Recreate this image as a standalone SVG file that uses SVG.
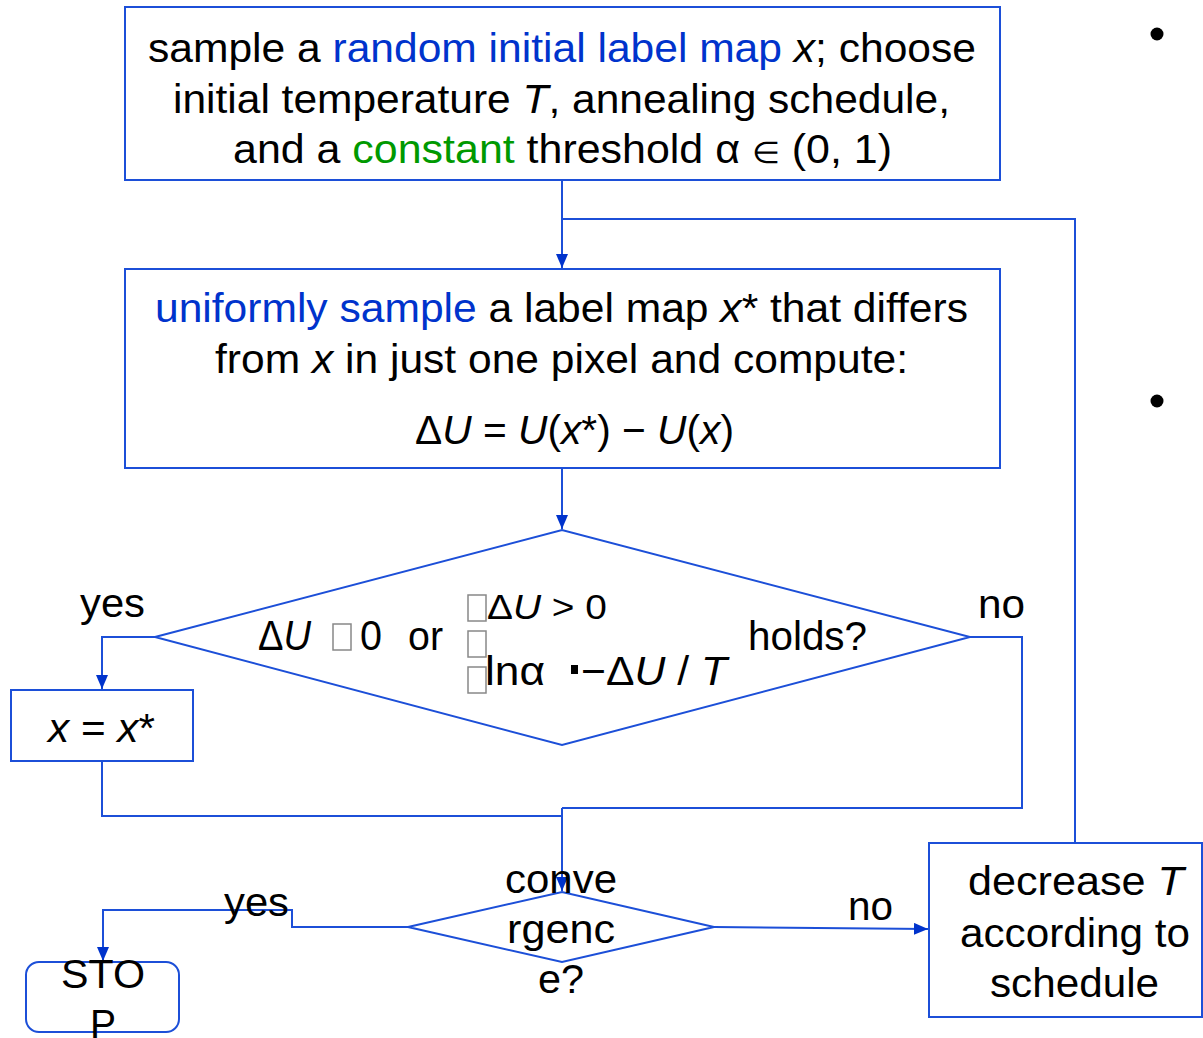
<svg xmlns="http://www.w3.org/2000/svg" width="1203" height="1038" viewBox="0 0 1203 1038">
<style>
.box{fill:#fff;stroke:#1c4fd8;stroke-width:2}
.ln{fill:none;stroke:#1c4fd8;stroke-width:2}
.t{font-family:"Liberation Sans",Arial,sans-serif;font-size:40px;fill:#000}
.f{font-family:"Liberation Sans",Arial,sans-serif;fill:#000}
.i{font-style:italic}
.b{fill:#0033cc}
.g{fill:#009900}
.mb{fill:none;stroke:#888;stroke-width:1.5}
</style>
<defs>
<marker id="ah" viewBox="0 0 14 12" refX="14" refY="6" markerWidth="14" markerHeight="12" markerUnits="userSpaceOnUse" orient="auto">
<path d="M0,0 L14,6 L0,12 Z" fill="#0033cc"/>
</marker>
</defs>
<rect width="1203" height="1038" fill="#fff"/>
<g id="connectors">
<path class="ln" d="M562,180 V268" marker-end="url(#ah)"/>
<path class="ln" d="M1075,843 V219 H562"/>
<path class="ln" d="M562,468 V529" marker-end="url(#ah)"/>
<path class="ln" d="M155,637 H102 V689" marker-end="url(#ah)"/>
<path class="ln" d="M970,637 H1022 V808 H562"/>
<path class="ln" d="M102,761 V816 H562"/>
<path class="ln" d="M562,808 V891" marker-end="url(#ah)"/>
<path class="ln" d="M408,927 H292 V910 H103 V961" marker-end="url(#ah)"/>
<path class="ln" d="M714,927 L928,929" marker-end="url(#ah)"/>
<text class="t" x="80" y="617" textLength="65" lengthAdjust="spacingAndGlyphs">yes</text>
<text class="t" x="978" y="618" textLength="47" lengthAdjust="spacingAndGlyphs">no</text>
<text class="t" x="224" y="916" textLength="65" lengthAdjust="spacingAndGlyphs">yes</text>
<text class="t" x="848" y="920" textLength="45" lengthAdjust="spacingAndGlyphs">no</text>
</g>
<g id="init">
<rect class="box" x="125" y="7" width="875" height="173"/>
<text class="t" x="148" y="62" textLength="828" lengthAdjust="spacingAndGlyphs">sample a <tspan class="b">random initial label map</tspan> <tspan class="i">x</tspan>; choose</text>
<text class="t" x="173" y="113" textLength="777" lengthAdjust="spacingAndGlyphs">initial temperature <tspan class="i">T</tspan>, annealing schedule,</text>
<text class="t" x="233" y="163" textLength="659" lengthAdjust="spacingAndGlyphs">and a <tspan class="g">constant</tspan> threshold α <tspan font-size="30">∈</tspan> (0, 1)</text>
</g>
<g id="sample">
<rect class="box" x="125" y="269" width="875" height="199"/>
<text class="t" x="155" y="322" textLength="813" lengthAdjust="spacingAndGlyphs"><tspan class="b">uniformly sample</tspan> a label map <tspan class="i">x</tspan>* that differs</text>
<text class="t" x="215" y="373" textLength="693" lengthAdjust="spacingAndGlyphs">from <tspan class="i">x</tspan> in just one pixel and compute:</text>
<text class="f" x="415" y="444" font-size="41" textLength="319" lengthAdjust="spacingAndGlyphs">Δ<tspan class="i">U</tspan> = <tspan class="i">U</tspan>(<tspan class="i">x</tspan>*) − <tspan class="i">U</tspan>(<tspan class="i">x</tspan>)</text>
</g>
<g id="accept">
<polygon class="box" points="155,637 562,530 970,637 562,745"/>
<text class="f" x="258" y="650" font-size="43" textLength="53" lengthAdjust="spacingAndGlyphs">Δ<tspan class="i">U</tspan></text>
<rect class="mb" x="333" y="624" width="18" height="26"/>
<text class="f" x="360" y="650" font-size="43" textLength="22" lengthAdjust="spacingAndGlyphs">0</text>
<text class="f" x="408" y="650" font-size="40" textLength="35" lengthAdjust="spacingAndGlyphs">or</text>
<rect class="mb" x="468" y="595" width="18" height="26"/>
<rect class="mb" x="468" y="631" width="18" height="26"/>
<rect class="mb" x="468" y="667" width="18" height="26"/>
<text class="f" x="487" y="619" font-size="35" textLength="120" lengthAdjust="spacingAndGlyphs">Δ<tspan class="i">U</tspan> &gt; 0</text>
<text class="f" x="485" y="685" font-size="41" textLength="60" lengthAdjust="spacingAndGlyphs">lnα</text>
<rect x="571" y="665" width="7" height="9" fill="#000"/>
<text class="f" x="581" y="685" font-size="41" textLength="146" lengthAdjust="spacingAndGlyphs">−Δ<tspan class="i">U</tspan> / <tspan class="i">T</tspan></text>
<text class="f" x="748" y="650" font-size="40" textLength="119" lengthAdjust="spacingAndGlyphs">holds?</text>
</g>
<g id="assign">
<rect class="box" x="11" y="690" width="182" height="71"/>
<text class="t" x="48" y="742" textLength="107" lengthAdjust="spacingAndGlyphs"><tspan class="i">x</tspan> = <tspan class="i">x</tspan>*</text>
</g>
<g id="converge">
<polygon class="box" points="408,927 562,892 714,927 562,962"/>
<text class="t" x="505" y="893" textLength="112" lengthAdjust="spacingAndGlyphs">conve</text>
<text class="t" x="507" y="943" textLength="108" lengthAdjust="spacingAndGlyphs">rgenc</text>
<text class="t" x="538" y="993" textLength="46" lengthAdjust="spacingAndGlyphs">e?</text>
</g>
<g id="decrease">
<rect class="box" x="929" y="843" width="273" height="174"/>
<text class="t" x="968" y="895" textLength="216" lengthAdjust="spacingAndGlyphs">decrease <tspan class="i">T</tspan></text>
<text class="t" x="960" y="947" textLength="230" lengthAdjust="spacingAndGlyphs">according to</text>
<text class="t" x="990" y="997" textLength="169" lengthAdjust="spacingAndGlyphs">schedule</text>
</g>
<g id="stop">
<rect class="box" x="26" y="962" width="153" height="70" rx="13" ry="13"/>
<text class="t" x="61" y="988" textLength="84" lengthAdjust="spacingAndGlyphs">STO</text>
<text class="t" x="90" y="1038" textLength="26" lengthAdjust="spacingAndGlyphs">P</text>
</g>
<g id="bullets">
<circle cx="1157" cy="34" r="6.5" fill="#000"/>
<circle cx="1157" cy="401" r="6.5" fill="#000"/>
</g>
</svg>
